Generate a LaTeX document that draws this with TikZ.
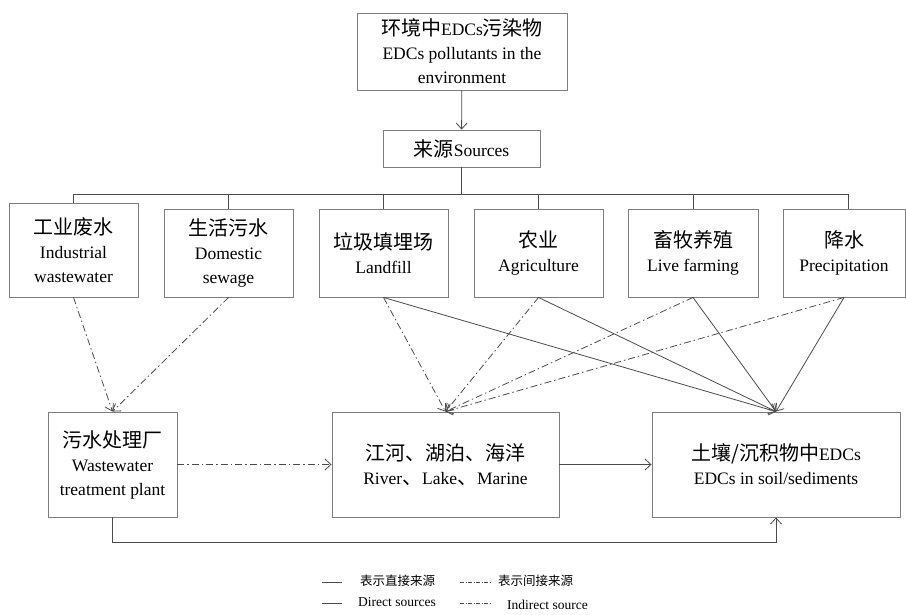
\documentclass[tikz,border=0pt]{standalone}
\usepackage{fontspec}
\setmainfont{Liberation Serif}
\newfontfamily\cjk{Noto Sans CJK SC}
\usetikzlibrary{arrows.meta}
\definecolor{frame}{RGB}{125,125,125}
\definecolor{wire}{RGB}{75,75,75}
\newcommand{\zh}[1]{{\cjk\fontsize{20}{24}\selectfont #1}}
\newcommand{\zhs}[1]{{\cjk\fontsize{12.5}{15}\selectfont #1}}
\tikzset{
  box/.style={draw=frame,line width=0.9pt,align=center,inner sep=0pt,
    font=\fontsize{17.5}{24}\selectfont},
  direct/.style={wire,line width=0.8pt,-{Straight Barb[length=6pt,width=11pt]}},
  indirect/.style={direct,dash pattern=on 7pt off 3pt on 1.5pt off 3pt},
  bus/.style={wire,line width=0.8pt},
  key/.style={inner sep=0pt,font=\fontsize{13.5}{16}\selectfont}
}

\begin{document}
\begin{tikzpicture}[x=1pt,y=-1pt]
  \useasboundingbox (0,0) rectangle (906,614);
  % top of the tree
  \node[box,minimum width=210,minimum height=77] (env) at (462,51.5)
    {\zh{环境中}EDCs\zh{污染物}\\EDCs pollutants in the\\environment};
  \node[box,minimum width=157,minimum height=37] (src) at (461.5,148.5)
    {\zh{来源}Sources};
  \draw[direct] (env) -- (src);

  % the six sources
  \node[box,minimum width=129,minimum height=94] (ind) at (73.5,250)
    {\zh{工业废水}\\Industrial\\wastewater};
  \node[box,minimum width=129,minimum height=88] (dom) at (228.5,253)
    {\zh{生活污水}\\Domestic\\sewage};
  \node[box,minimum width=129,minimum height=88] (land) at (383.5,253)
    {\zh{垃圾填埋场}\\Landfill};
  \node[box,minimum width=129,minimum height=88] (agri) at (538.5,253)
    {\zh{农业}\\Agriculture};
  \node[box,minimum width=130,minimum height=88] (live) at (693,253)
    {\zh{畜牧养殖}\\Live farming};
  \node[box,minimum width=122,minimum height=88] (prec) at (844,253)
    {\zh{降水}\\Precipitation};

  \coordinate (fork) at (0,194);
  \draw[bus] (src) -- (src.south |- fork);
  \draw[bus] (ind.north) -- (ind.north |- fork) -- ([xshift=4pt]prec.north |- fork)
    -- ([xshift=4pt]prec.north);
  \foreach \n in {dom,land,agri,live}
    \draw[bus] (\n.north) -- (\n.north |- fork);

  % where the pollutants end up
  \node[box,minimum width=129,minimum height=105] (wtp) at (112.5,464.5)
    {\zh{污水处理厂}\\Wastewater\\treatment plant};
  \node[box,minimum width=227,minimum height=105] (water) at (445.5,464.5)
    {\zh{江河、湖泊、海洋}\\River\zh{、}Lake\zh{、}Marine};
  \node[box,minimum width=248,minimum height=105] (soil) at (776,464.5)
    {\zh{土壤/沉积物中}EDCs\\EDCs in soil/sediments};

  \draw[indirect] (ind.south) -- (wtp.north);
  \draw[indirect] (dom.south) -- (wtp.north);
  \foreach \n in {land,agri,live,prec}{
    \draw[indirect] (\n.south) -- (water.north);
    \draw[direct] (\n.south) -- (soil.north);
  }
  \draw[indirect] (wtp) -- (water);
  \draw[direct] (water) -- (soil);
  \draw[direct] (wtp.south) -- ++(0,25) -| (soil.south);

  % legend
  \coordinate (k1) at (322,582);
  \coordinate (k2) at (460,582);
  \coordinate (k3) at (322,603);
  \coordinate (k4) at (460,603);
  \draw[bus,line width=0.6pt] (k1) -- ++(20,0);
  \draw[bus,line width=0.6pt,dash pattern=on 4pt off 1.5pt on 1pt off 1.5pt] (k2) -- ++(30,0);
  \draw[bus,line width=0.6pt] (k3) -- ++(20,0);
  \draw[bus,line width=0.6pt,dash pattern=on 4pt off 1.5pt on 1pt off 1.5pt] (k4) -- ++(30,0);
  \node[key,anchor=west] (kzd) at (360,581) {\zhs{表示直接来源}};
  \node[key,anchor=west] (kzi) at (498,581) {\zhs{表示间接来源}};
  \node[key,anchor=west] (ked) at (358,602) {Direct sources};
  \node[key,anchor=west] (kei) at (507,605) {Indirect source};
\end{tikzpicture}
\end{document}
